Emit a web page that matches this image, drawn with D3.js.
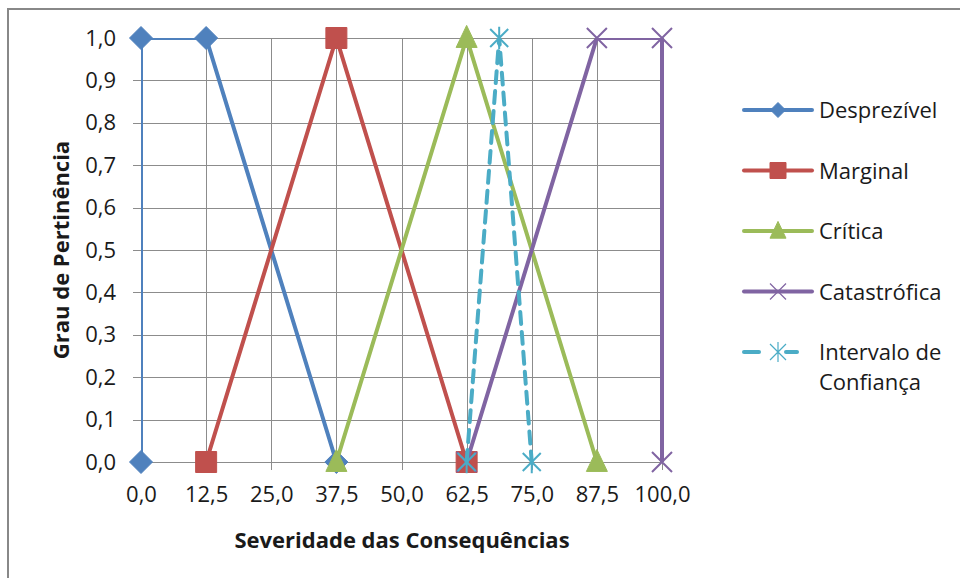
<!DOCTYPE html>
<html>
<head>
<meta charset="utf-8">
<script src="https://cdn.jsdelivr.net/npm/d3@7"></script>
<style>
  body { margin: 0; background: #fff; }
  svg { display: block; }
  text { font-family: "Open Sans", sans-serif; fill: #1a1a1a; }
</style>
</head>
<body>
<svg id="chart" width="960" height="578"></svg>
<script>
// Membership functions of the severity classes
const seriesNames = ["Desprezível", "Marginal", "Crítica", "Catastrófica", "Intervalo de Confiança"];
const desprezivel = [[0, 0], [0, 1], [12.5, 1], [37.5, 0]];
const marginal = [[12.5, 0], [37.5, 1], [62.5, 0]];
const critica = [[37.5, 0], [62.5, 1], [87.5, 0]];
const catastrofica = [[62.5, 0], [87.5, 1], [100, 1], [100, 0]];
const intervalo = [[62.5, 0], [68.75, 1], [75, 0]];

const xTicks = [0, 12.5, 25, 37.5, 50, 62.5, 75, 87.5, 100];
const yTicks = [0, 0.1, 0.2, 0.3, 0.4, 0.5, 0.6, 0.7, 0.8, 0.9, 1.0];

const colors = ["#4F81BD", "#C0504D", "#9BBB59", "#8064A2", "#4BACC6"];
const markers = ["diamond", "square", "triangle", "x", "star"];
const dashed = [false, false, false, false, true];
const allSeries = [desprezivel, marginal, critica, catastrofica, intervalo];

const svg = d3.select("#chart");
const fmt = v => d3.format(".1f")(v).replace(".", ",");
const FONT = 22;

const x = d3.scaleLinear().domain([0, 100]).range([141, 662]);
const y = d3.scaleLinear().domain([0, 1]).range([462, 38]);

// Outer frame
svg.append("path")
  .attr("d", "M8,580 L8,9 L962,9")
  .attr("fill", "none").attr("stroke", "#888").attr("stroke-width", 2);

// Gridlines
const grid = svg.append("g").attr("stroke", "#8c8c8c").attr("stroke-width", 1);
grid.selectAll(".h").data(yTicks).join("line")
  .attr("x1", x(0) - 8).attr("x2", x(100))
  .attr("y1", d => Math.round(y(d)) + 0.5).attr("y2", d => Math.round(y(d)) + 0.5);
grid.selectAll(".v").data(xTicks).join("line")
  .attr("x1", d => Math.round(x(d)) + 0.5).attr("x2", d => Math.round(x(d)) + 0.5)
  .attr("y1", y(1)).attr("y2", y(0) + 8);

// Axes tick labels via d3 axes
const xAxis = d3.axisBottom(x).tickValues(xTicks).tickFormat(fmt).tickSize(0).tickPadding(24);
const gx = svg.append("g").attr("transform", `translate(0,${y(0)})`).call(xAxis);
gx.select(".domain").remove();
gx.selectAll("text").attr("font-size", FONT).attr("font-family", "'Open Sans', sans-serif").attr("fill", "#1a1a1a");

const yAxis = d3.axisLeft(y).tickValues(yTicks).tickFormat(fmt).tickSize(0).tickPadding(25);
const gy = svg.append("g").attr("transform", `translate(${x(0)},0)`).call(yAxis);
gy.select(".domain").remove();
gy.selectAll("text").attr("font-size", FONT).attr("font-family", "'Open Sans', sans-serif").attr("fill", "#1a1a1a");

// Axis titles
svg.append("text").attr("x", 402).attr("y", 548).attr("text-anchor", "middle")
  .attr("font-size", FONT).attr("font-weight", "bold").text("Severidade das Consequências");
svg.append("text").attr("transform", "translate(69,250) rotate(-90)").attr("text-anchor", "middle")
  .attr("font-size", FONT).attr("font-weight", "bold").text("Grau de Pertinência");

// Clip lines to plot area
svg.append("clipPath").attr("id", "plotclip").append("rect")
  .attr("x", x(0)).attr("y", y(1)).attr("width", x(100) - x(0) + 6).attr("height", y(0) - y(1) + 6);

function markerPath(type, s) {
  switch (type) {
    case "diamond": return `M0,${-s} L${s},0 L0,${s} L${-s},0 Z`;
    case "square": return `M${-s},${-s} H${s} V${s} H${-s} Z`;
    case "triangle": return `M0,${-s * 1.2} L${s},${s * 0.9} L${-s},${s * 0.9} Z`;
    case "x": return `M${-s},${-s} L${s},${s} M${s},${-s} L${-s},${s}`;
    case "star": return `M${-s},${-s} L${s},${s} M${s},${-s} L${-s},${s} M0,${-s * 1.25} L0,${s * 1.25}`;
  }
}
const filled = { diamond: true, square: true, triangle: true, x: false, star: false };
const plotSize = { diamond: 11.5, square: 10.5, triangle: 10.5, x: 10, star: 9 };
const legendSize = { diamond: 7.5, square: 8, triangle: 8, x: 8, star: 8 };

const line = d3.line().x(d => x(d[0])).y(d => y(d[1]));
const plot = svg.append("g");

allSeries.forEach((data, i) => {
  plot.append("path").attr("d", line(data))
    .attr("clip-path", "url(#plotclip)")
    .attr("fill", "none").attr("stroke", colors[i]).attr("stroke-width", 4)
    .attr("stroke-linejoin", "round")
    .attr("stroke-dasharray", dashed[i] ? "12,8" : null)
    .attr("stroke-linecap", dashed[i] ? "round" : "butt");
  const m = markers[i];
  plot.selectAll(null).data(data).join("path")
    .attr("transform", d => `translate(${x(d[0])},${y(d[1])})`)
    .attr("d", markerPath(m, plotSize[m]))
    .attr("fill", filled[m] ? colors[i] : "none")
    .attr("stroke", colors[i])
    .attr("stroke-width", filled[m] ? 1 : 2);
});

// Legend
const legend = svg.append("g");
const ly0 = 110, lstep = 60.5;
seriesNames.forEach((name, i) => {
  const yy = ly0 + i * lstep;
  const g = legend.append("g");
  if (dashed[i]) {
    g.append("line").attr("x1", 744).attr("x2", 759).attr("y1", yy).attr("y2", yy)
      .attr("stroke", colors[i]).attr("stroke-width", 4).attr("stroke-linecap", "round");
    g.append("line").attr("x1", 786).attr("x2", 797).attr("y1", yy).attr("y2", yy)
      .attr("stroke", colors[i]).attr("stroke-width", 4).attr("stroke-linecap", "round");
  } else {
    g.append("line").attr("x1", 744).attr("x2", 812).attr("y1", yy).attr("y2", yy)
      .attr("stroke", colors[i]).attr("stroke-width", 4).attr("stroke-linecap", "round");
  }
  const m = markers[i];
  g.append("path").attr("transform", `translate(778,${yy})`)
    .attr("d", markerPath(m, legendSize[m]))
    .attr("fill", filled[m] ? colors[i] : "none")
    .attr("stroke", colors[i]).attr("stroke-width", filled[m] ? 1 : 1.2);
  const t = g.append("text").attr("x", 819).attr("y", yy + 8).attr("font-size", FONT);
  if (name === "Intervalo de Confiança") {
    t.append("tspan").attr("x", 819).text("Intervalo de");
    t.append("tspan").attr("x", 819).attr("dy", 30).text("Confiança");
  } else {
    t.text(name);
  }
});
</script>
</body>
</html>
